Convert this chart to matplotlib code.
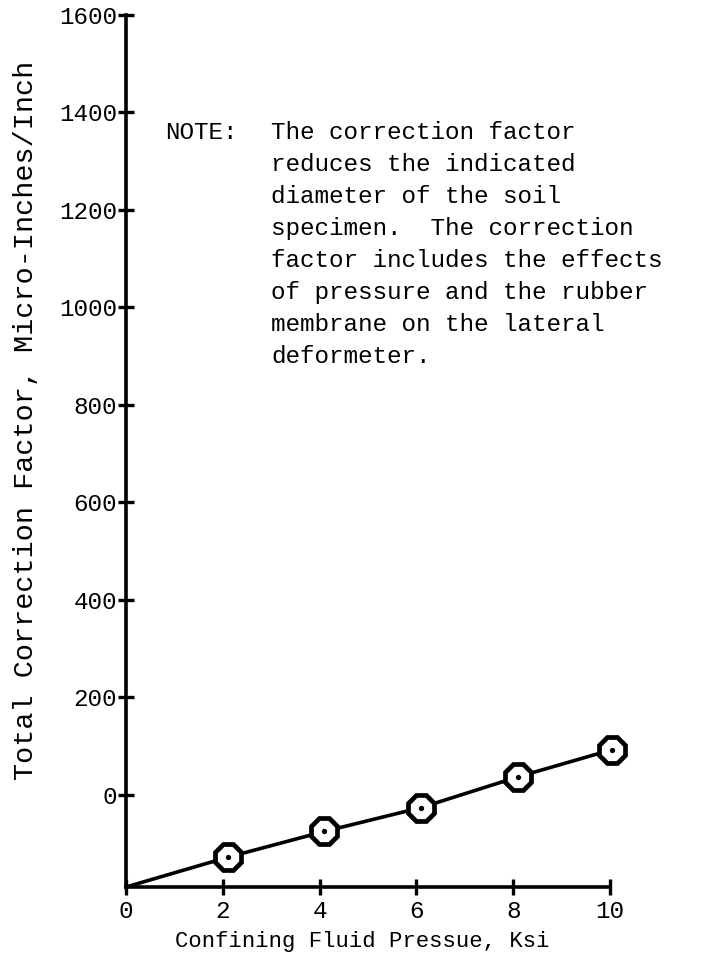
import matplotlib
matplotlib.use("Agg")
import matplotlib.pyplot as plt

plt.rcParams['font.family'] = ['Liberation Mono', 'DejaVu Sans Mono']

# Data (y in the units of the printed axis labels)
pressure = [0.0, 2.1, 4.1, 6.1, 8.1, 10.05]
correction = [-189, -128, -75, -26, 37, 93]
x_ticks = [0, 2, 4, 6, 8, 10]
y_ticks = [0, 200, 400, 600, 800, 1000, 1200, 1400, 1600]

note_head = "NOTE:"
note_lines = [
    "The correction factor",
    "reduces the indicated",
    "diameter of the soil",
    "specimen.  The correction",
    "factor includes the effects",
    "of pressure and the rubber",
    "membrane on the lateral",
    "deformeter.",
]
xlabel = "Confining Fluid Pressue, Ksi"
ylabel = "Total Correction Factor, Micro-Inches/Inch"

W, H = 714, 965
fig = plt.figure(figsize=(W / 100, H / 100), dpi=100)
ax = fig.add_axes([126 / W, 1 - 887 / H, (610 - 126) / W, (887 - 15) / H])

ax.plot(pressure, correction, color='black', lw=2.6, clip_on=False, zorder=3)
ax.plot(pressure[1:], correction[1:], ls='none', marker='8', ms=19.5, mfc='white',
        mec='black', mew=3.4, clip_on=False, zorder=4)
ax.plot(pressure[1:], correction[1:], ls='none', marker='o', ms=2.8,
        color='black', clip_on=False, zorder=5)

ax.set_xlim(0, 10)
ax.set_ylim(-189, 1600)
ax.set_xticks(x_ticks)
ax.set_yticks(y_ticks)

for s in ['top', 'right']:
    ax.spines[s].set_visible(False)
for s in ['left', 'bottom']:
    ax.spines[s].set_linewidth(2.6)
    ax.spines[s].set_capstyle('projecting')

ax.tick_params(axis='both', direction='inout', length=11, width=2.4,
               labelsize=17.5, colors='black')
ax.tick_params(axis='y', pad=1)
ax.tick_params(axis='x', pad=4)

fig.text(26 / W, 1 - 420 / H, ylabel, rotation=90, ha='center', va='center',
         fontsize=20.5)
fig.text(362 / W, 1 - 942 / H, xlabel, ha='center', va='center', fontsize=16)

fig.text(165 / W, 1 - 139 / H, note_head, ha='left', va='baseline', fontsize=17.5)
for i, line in enumerate(note_lines):
    fig.text(271 / W, 1 - (139 + 32 * i) / H, line, ha='left', va='baseline',
             fontsize=17.5)

fig.savefig("out.png", dpi=100, facecolor='white')
